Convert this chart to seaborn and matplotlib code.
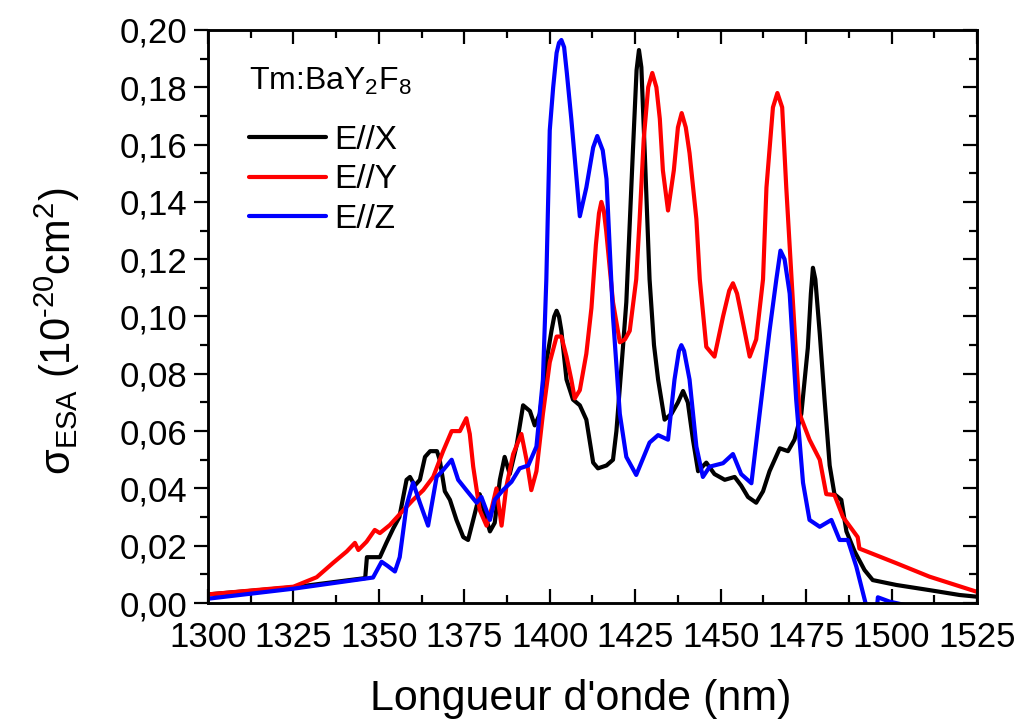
import matplotlib
matplotlib.use("Agg")
import matplotlib.pyplot as plt
import matplotlib.ticker as mticker
import pandas as pd
import seaborn as sns

# E//X
wl_x = [1300, 1325, 1346, 1346.5, 1349, 1350.3, 1352.2, 1354.2, 1356, 1358.1, 1359.1, 1360.5,
        1362, 1363.5, 1365, 1367, 1367.8, 1369.3, 1370.8, 1372.7, 1374.7, 1376.1, 1377.6,
        1379.5, 1381, 1382.5, 1383.9, 1385.4, 1386.8, 1388.3, 1390.3, 1392.2, 1394.2, 1395.6,
        1397.1, 1399, 1400.5, 1401.3, 1402, 1402.7, 1403.4, 1404.9, 1406.8, 1408.8, 1410.7,
        1412.7, 1414.1, 1416.6, 1418.5, 1419.5, 1421.4, 1422.4, 1424.3, 1425.4, 1426.1,
        1426.8, 1427.8, 1429.2, 1430.5, 1431.7, 1433.6, 1435.6, 1437.5, 1439, 1440.4, 1441.9,
        1443.4, 1445.8, 1448.2, 1451.2, 1454.1, 1456, 1458, 1460.4, 1462.4, 1464.3, 1467.3,
        1469.7, 1471.6, 1473.6, 1475.5, 1476.4, 1477, 1477.7, 1479, 1480.4, 1481.9, 1483.3,
        1485.3, 1486.8, 1489.2, 1492.1, 1494.5, 1501.4, 1511.1, 1519.9, 1525]
sig_x = [0.003, 0.0055, 0.0087, 0.016, 0.016, 0.016, 0.021, 0.026, 0.030, 0.043, 0.044, 0.041,
         0.043, 0.051, 0.053, 0.053, 0.050, 0.039, 0.036, 0.029, 0.023, 0.022, 0.029,
         0.038, 0.031, 0.025, 0.028, 0.043, 0.051, 0.045, 0.055, 0.069, 0.067, 0.062,
         0.066, 0.084, 0.095, 0.100, 0.102, 0.100, 0.095, 0.078, 0.071, 0.069, 0.064,
         0.049, 0.047, 0.048, 0.050, 0.060, 0.089, 0.105, 0.157, 0.186, 0.193,
         0.187, 0.157, 0.113, 0.090, 0.078, 0.064, 0.066, 0.070, 0.074, 0.070, 0.057,
         0.046, 0.049, 0.045, 0.043, 0.044, 0.041, 0.037, 0.035, 0.039, 0.046, 0.054,
         0.053, 0.057, 0.066, 0.089, 0.108, 0.117, 0.113, 0.094, 0.071, 0.048, 0.038,
         0.036, 0.025, 0.018, 0.0115, 0.008, 0.0063, 0.0045, 0.0028, 0.0022]

# E//Y
wl_y = [1300, 1325, 1331.8, 1336.6, 1340.6, 1343, 1344, 1346.4, 1348.8, 1350.3, 1353.2, 1356.1,
        1360, 1363, 1365.9, 1368.8, 1371.3, 1373.7, 1375.6, 1376.6, 1377.6, 1379.5, 1381.5,
        1383, 1384.4, 1385.9, 1387.3, 1389.3, 1391.7, 1393.2, 1394.6, 1396.1, 1398, 1400,
        1402, 1403.4, 1404.9, 1406.3, 1407.3, 1408.8, 1410.7, 1412.2, 1413.5, 1414.4, 1415.1,
        1415.8, 1416.5, 1418.5, 1420.5, 1422, 1423.4, 1425.3, 1426.3, 1427.5, 1428.8, 1430,
        1431.2, 1432.2, 1433.1, 1434.6, 1436.3, 1437.5, 1438.6, 1439.8, 1440.9, 1442.9, 1443.9,
        1445.8, 1448.2, 1450.7, 1452.5, 1453.6, 1454.8, 1456, 1458.5, 1460.4, 1462.4, 1463.4,
        1465.3, 1466.6, 1468, 1469.2, 1471.1, 1473.1, 1476, 1479, 1480.9, 1483.3, 1485.8,
        1490.1, 1490.6, 1501.4, 1511.1, 1525]
sig_y = [0.003, 0.0057, 0.009, 0.014, 0.018, 0.021, 0.0185, 0.0214, 0.0255, 0.0244, 0.0272, 0.031,
         0.036, 0.0394, 0.044, 0.053, 0.060, 0.060, 0.0645, 0.059, 0.0476, 0.0325, 0.027,
         0.033, 0.040, 0.027, 0.0406, 0.052, 0.059, 0.050, 0.0394, 0.046, 0.066, 0.084,
         0.093, 0.093, 0.086, 0.078, 0.0714, 0.0743, 0.087, 0.103, 0.125, 0.136, 0.140,
         0.137, 0.130, 0.105, 0.091, 0.092, 0.095, 0.113, 0.134, 0.162, 0.180, 0.185,
         0.180, 0.169, 0.151, 0.137, 0.151, 0.166, 0.171, 0.166, 0.157, 0.134, 0.113,
         0.0894, 0.086, 0.100, 0.109, 0.1116, 0.108, 0.101, 0.086, 0.092, 0.113, 0.145,
         0.173, 0.178, 0.173, 0.145, 0.106, 0.066, 0.057, 0.050, 0.038, 0.0377, 0.030,
         0.023, 0.019, 0.0139, 0.0092, 0.0039]

# E//Z
wl_z = [1300, 1325, 1348.3, 1350.8, 1352.5, 1354.7, 1356.1, 1358.1, 1360, 1362, 1364.4, 1366.9,
        1368.8, 1371.3, 1373.2, 1375.6, 1378.6, 1380, 1382.5, 1383.9, 1386.3, 1388.8, 1391.2,
        1393.7, 1396.1, 1398, 1399, 1400, 1401, 1402, 1402.7, 1403.4, 1404.2, 1405, 1406.3,
        1408.8, 1410.7, 1412.7, 1413.9, 1415.5, 1416.6, 1417.5, 1418.5, 1420.5, 1422.4, 1425.3,
        1429.2, 1431.7, 1434.6, 1436.5, 1437.8, 1438.5, 1439.3, 1440.9, 1442.9, 1444.8, 1446.8,
        1450.7, 1453.6, 1456, 1459, 1461.4, 1464.3, 1466.3, 1467.5, 1468.7, 1470.2, 1472.1,
        1474.1, 1476, 1479, 1482.4, 1484.8, 1487.2, 1489.7, 1492.6, 1494, 1495.5, 1496, 1499.4,
        1505, 1525]
sig_z = [0.0015, 0.005, 0.0089, 0.0144, 0.013, 0.011, 0.016, 0.034, 0.042, 0.035, 0.027, 0.044,
         0.0464, 0.050, 0.043, 0.0394, 0.035, 0.037, 0.029, 0.036, 0.0394, 0.0423, 0.047,
         0.048, 0.0546, 0.078, 0.113, 0.165, 0.180, 0.192, 0.1955, 0.1965, 0.194, 0.185, 0.169,
         0.135, 0.145, 0.159, 0.163, 0.158, 0.148, 0.125, 0.100, 0.066, 0.051, 0.0447,
         0.056, 0.0586, 0.057, 0.078, 0.088, 0.090, 0.088, 0.078, 0.0546, 0.044, 0.0476,
         0.0488, 0.052, 0.045, 0.0418, 0.066, 0.095, 0.113, 0.123, 0.120, 0.108, 0.071,
         0.042, 0.029, 0.0266, 0.029, 0.022, 0.022, 0.0127, -0.001, -0.005, -0.005, 0.002, 0.0005,
         -0.001, -0.005]

labels = ["E//X", "E//Y", "E//Z"]
colors = ["#000000", "#ff0000", "#0000ff"]

df = pd.concat([
    pd.DataFrame({"wl": wl_x, "sigma": sig_x, "pol": labels[0]}),
    pd.DataFrame({"wl": wl_y, "sigma": sig_y, "pol": labels[1]}),
    pd.DataFrame({"wl": wl_z, "sigma": sig_z, "pol": labels[2]}),
])

sns.set_style("ticks")
plt.rcParams["font.family"] = ["Liberation Sans", "DejaVu Sans"]
plt.rcParams["mathtext.fontset"] = "custom"
plt.rcParams["mathtext.rm"] = "Liberation Sans"
plt.rcParams["mathtext.it"] = "Liberation Sans"
plt.rcParams["mathtext.default"] = "regular"
for k in ["text.color", "axes.labelcolor", "xtick.color", "ytick.color", "axes.edgecolor"]:
    plt.rcParams[k] = "black"

fig = plt.figure(figsize=(10.16, 7.26), dpi=100)
ax = fig.add_axes([0.2047, 0.1694, 0.7569, 0.7893])

sns.lineplot(data=df, x="wl", y="sigma", hue="pol", palette=colors, hue_order=labels,
             estimator=None, ax=ax)
for ln in ax.get_lines():
    ln.set_linewidth(3.0)

ax.set_xlim(1300, 1525)
ax.set_ylim(0, 0.20)
ax.xaxis.set_major_locator(mticker.MultipleLocator(25))
ax.xaxis.set_minor_locator(mticker.MultipleLocator(12.5))
ax.yaxis.set_major_locator(mticker.MultipleLocator(0.02))
ax.yaxis.set_minor_locator(mticker.MultipleLocator(0.01))
ax.yaxis.set_major_formatter(mticker.FuncFormatter(lambda v, p: f"{v:.2f}".replace(".", ",")))

for s in ax.spines.values():
    s.set_linewidth(1.8)
    s.set_visible(True)

ax.tick_params(axis="x", which="both", direction="in", top=True, bottom=True,
               labelsize=25, width=1.6, pad=13)
ax.tick_params(axis="x", which="major", length=10)
ax.tick_params(axis="x", which="minor", length=5.5)
ax.tick_params(axis="y", which="both", direction="out", left=True, right=False,
               labelsize=25, width=1.6, pad=5)
ax.tick_params(axis="y", which="major", length=10)
ax.tick_params(axis="y", which="minor", length=5.5)

# inward ticks on the right side
ax2 = ax.twinx()
ax2.set_ylim(ax.get_ylim())
ax2.yaxis.set_major_locator(mticker.MultipleLocator(0.02))
ax2.yaxis.set_minor_locator(mticker.MultipleLocator(0.01))
ax2.tick_params(axis="y", which="both", direction="in", labelright=False, width=1.6)
ax2.tick_params(axis="y", which="major", length=10)
ax2.tick_params(axis="y", which="minor", length=5.5)
for s in ax2.spines.values():
    s.set_linewidth(1.8)

ax.set_xlabel("Longueur d'onde (nm)", fontsize=31)
ax.set_ylabel("$\\sigma_{ESA}$ (10$^{\u201020}$cm$^{2}$)", fontsize=30)
ax.xaxis.set_label_coords(0.485, -0.133)
ax.yaxis.set_label_coords(-0.164, 0.475)

handles, labs = ax.get_legend_handles_labels()
leg = ax.legend(handles, labs, title=r"Tm:BaY$_2$F$_8$", loc="upper left",
                bbox_to_anchor=(0.032, 0.966), frameon=False, fontsize=24, title_fontsize=23,
                handlelength=2.3, handletextpad=0.25, labelspacing=0.25, borderpad=0,
                alignment="left")
leg._legend_box.sep = 20
for h in leg.get_lines():
    h.set_linewidth(3.0)

fig.savefig("out.png", dpi=100)
